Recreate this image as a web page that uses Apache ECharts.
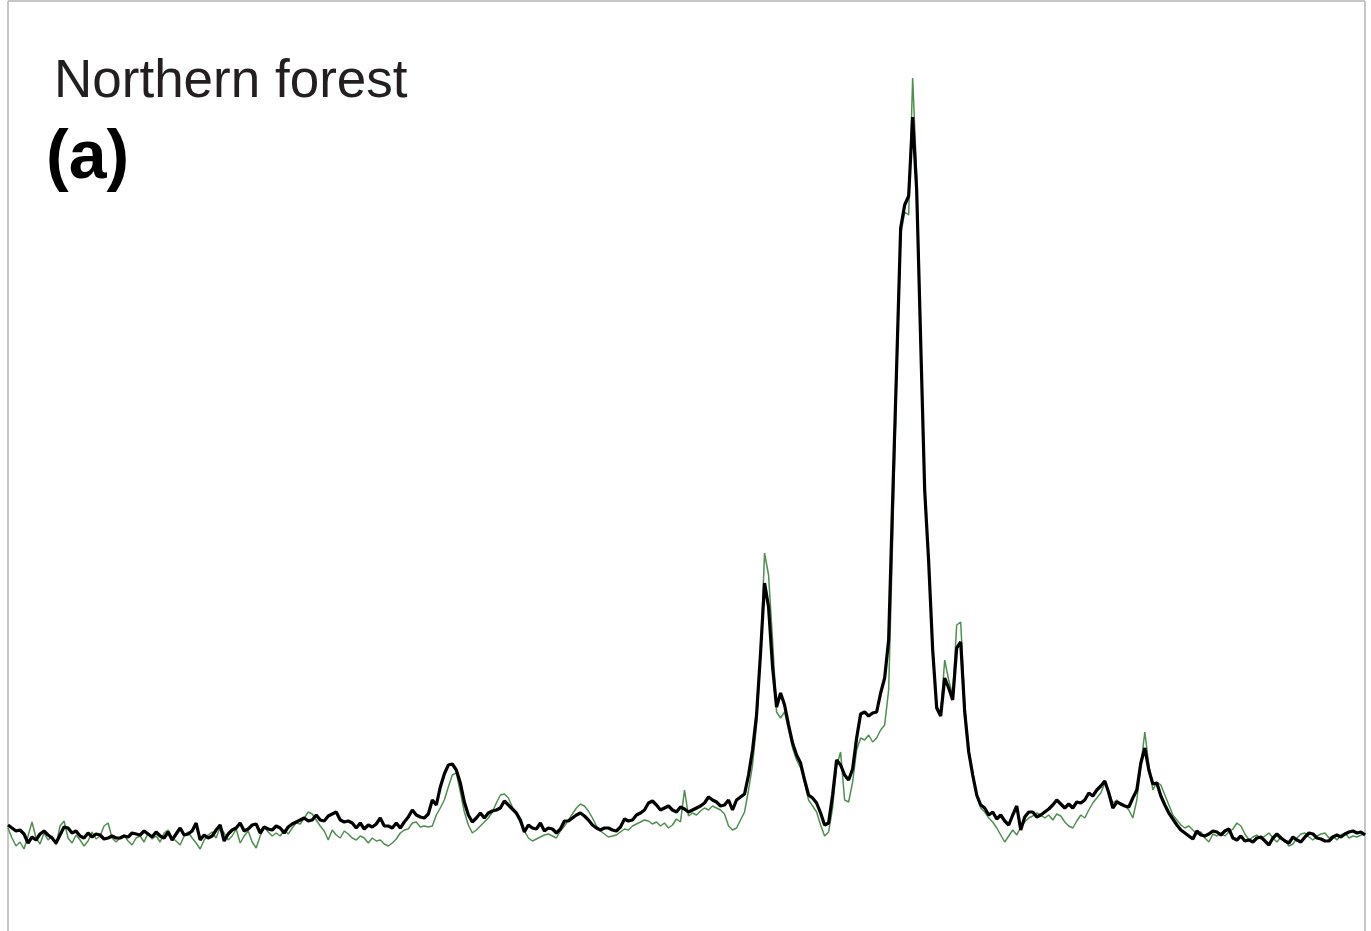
<!DOCTYPE html>
<html>
<head>
<meta charset="utf-8">
<script src="https://cdn.jsdelivr.net/npm/echarts@6/dist/echarts.min.js"></script>
<style>
html,body{margin:0;padding:0;background:#fff;}
#chart{width:1371px;height:931px;}
</style>
</head>
<body>
<div id="chart"></div>
<script>
// Spectrum intensities (arbitrary units) at evenly spaced positions
const blackSeries = [
1.5,1.2,0.9,1.0,0.6,-0.3,0.3,0.0,0.6,0.9,
0.5,0.2,-0.3,0.5,1.3,1.2,0.7,0.9,0.4,0.2,
0.7,0.3,0.6,0.5,0.1,0.2,0.4,0.2,0.2,0.4,
0.3,0.7,0.6,0.5,0.9,0.6,0.3,0.8,0.4,0.2,
0.8,0.0,0.6,1.2,0.5,0.6,0.9,1.7,0.0,0.5,
0.2,0.4,1.0,1.5,-0.1,0.6,1.0,1.2,1.7,0.9,
1.1,1.5,1.6,0.7,1.3,1.1,1.0,1.4,1.2,0.7,
1.3,1.6,1.8,2.0,2.2,1.9,2.0,2.5,2.0,1.9,
2.4,2.6,2.8,2.0,1.8,1.9,1.7,1.2,1.7,1.1,
1.5,1.3,1.6,2.2,1.4,1.4,1.2,1.7,1.2,1.8,
2.3,3.0,2.5,2.3,2.2,2.6,4.0,3.5,5.3,6.6,
7.5,7.6,7.0,5.7,3.8,2.5,1.8,2.2,2.7,2.2,
2.7,2.9,3.0,3.2,3.9,3.5,3.1,2.7,2.0,0.8,
1.5,1.2,1.1,1.7,0.9,1.2,1.1,0.7,1.1,1.9,
1.9,2.2,2.5,2.7,2.4,2.0,1.5,1.2,1.0,1.2,
1.2,1.0,0.9,1.3,2.1,1.9,2.0,2.5,2.7,3.0,
3.7,3.9,3.5,3.0,3.2,3.4,3.0,2.8,3.3,3.1,
2.8,3.0,3.2,3.4,3.7,4.3,4.0,3.8,3.4,3.5,
4.0,3.0,4.0,4.3,4.6,6.5,9.0,12.5,18.7,25.7,
23.3,17.3,13.3,14.7,13.5,11.5,9.7,8.5,7.7,6.0,
4.5,4.2,3.7,2.7,1.5,1.7,4.5,8.0,7.5,6.5,
6.0,7.1,10.2,12.6,12.8,12.4,12.7,12.8,14.7,16.2,
20.0,34.0,47.4,61.2,63.5,64.4,72.3,65.0,49.9,35.0,
27.8,19.0,13.2,12.4,16.2,15.2,14.0,19.2,19.8,12.8,
8.8,6.5,4.5,3.5,3.2,2.5,2.8,2.1,2.5,1.9,
1.5,2.5,3.4,1.0,2.3,2.8,2.8,2.3,2.5,2.8,
3.1,3.5,4.0,3.6,3.2,3.6,3.2,3.8,3.7,4.0,
4.7,4.4,5.0,5.4,5.9,4.7,3.2,3.8,3.6,3.4,
3.3,4.2,5.0,7.7,9.2,7.0,5.6,5.7,4.4,3.5,
2.7,2.1,1.5,1.0,0.7,0.4,0.1,0.9,0.5,0.4,
0.6,0.9,0.8,0.5,0.9,1.1,0.2,0.0,0.4,-0.1,
0.0,-0.2,0.2,0.3,-0.1,-0.5,0.2,0.6,0.2,-0.1,
-0.3,0.3,0.0,-0.2,0.3,0.7,0.6,0.2,0.1,-0.1,
-0.1,0.3,0.5,0.3,0.6,0.8,0.9,0.7,0.8,0.5
];
const greenSeries = [
1.2,0.2,-0.6,-0.2,-0.9,0.4,1.8,0.2,-0.4,0.7,
0.0,0.4,-0.5,1.4,1.9,0.2,-0.3,0.5,0.0,-0.6,
-0.1,0.8,0.1,0.4,1.4,1.7,0.2,-0.2,0.2,0.5,
-0.1,-0.5,0.2,0.4,-0.2,0.7,0.1,0.4,-0.2,0.7,
1.0,0.2,-0.1,-0.5,0.4,0.8,0.2,-0.3,-0.9,0.0,
0.5,0.8,0.2,1.3,0.7,0.0,0.4,1.1,-0.3,0.4,
0.9,-0.2,-0.8,0.4,1.3,0.8,0.4,0.7,0.4,1.0,
0.6,1.2,1.7,1.6,2.2,2.8,2.6,2.0,1.4,0.9,
0.0,1.0,0.5,0.2,0.9,0.6,0.2,0.0,0.4,0.2,
-0.3,0.2,-0.1,0.0,-0.4,-0.6,-0.3,0.1,0.7,1.0,
1.1,1.7,1.8,1.3,1.4,1.3,1.4,2.5,3.2,4.0,
5.3,6.5,6.7,4.8,2.8,1.5,0.7,1.0,1.4,1.8,
2.2,2.8,3.7,4.5,4.6,4.2,3.3,2.5,1.7,0.9,
0.2,-0.1,0.1,0.3,0.5,0.6,0.4,0.2,0.9,1.4,
2.0,2.6,3.2,3.6,3.4,2.9,2.2,1.4,0.9,0.6,
0.3,0.4,0.5,0.8,1.1,1.0,1.4,1.6,1.8,2.0,
1.9,1.6,1.8,1.4,1.7,1.2,1.5,2.1,1.8,5.0,
2.4,2.7,2.5,2.9,3.2,3.0,3.4,3.2,3.0,2.6,
1.4,1.0,1.2,2.0,2.8,5.0,7.5,11.5,18.5,28.7,
26.5,20.0,12.8,12.2,12.8,11.0,9.2,8.0,7.2,5.7,
4.0,3.4,2.8,1.5,0.4,0.8,3.2,7.4,8.8,4.0,
3.8,5.8,9.0,10.2,10.0,10.5,9.8,10.2,11.0,11.5,
15.0,30.0,46.0,60.5,62.8,62.5,76.2,66.5,50.0,35.2,
28.0,19.5,13.5,12.6,18.0,16.0,14.5,21.5,21.8,13.5,
9.0,6.8,4.3,3.2,2.8,2.2,1.8,1.2,0.5,-0.2,
0.4,1.0,0.5,1.3,1.8,2.2,2.4,2.7,2.5,2.2,
2.5,2.0,2.6,2.4,1.8,1.4,1.2,1.9,2.5,2.2,
3.0,3.7,4.2,4.7,5.7,4.8,3.7,4.0,3.5,3.4,
3.0,2.2,4.0,7.5,10.8,7.5,5.0,5.8,5.5,4.5,
3.5,2.5,2.0,1.5,1.2,1.4,1.0,0.6,0.8,0.2,
-0.2,0.6,0.4,0.7,0.4,0.8,1.1,1.7,1.4,0.6,
0.0,0.3,0.5,0.1,0.4,0.7,0.2,-0.2,0.3,0.0,
-0.6,-0.4,0.2,0.6,0.7,0.3,0.0,0.4,0.6,0.7,
0.2,0.4,0.0,0.5,0.7,0.2,0.4,0.3,0.5,0.6
];
const titleText = 'Northern forest';
const panelLabel = '(a)';

const positions = blackSeries.map((_, i) => String(i));

const chart = echarts.init(document.getElementById('chart'), null, {renderer: 'canvas'});
const frameStyle = {stroke: '#b4b4b4', lineWidth: 1.5};
chart.setOption({
  animation: false,
  backgroundColor: '#ffffff',
  grid: {left: 8, right: 6, top: 1, bottom: 0, show: false},
  xAxis: {type: 'category', data: positions, boundaryGap: false, show: false},
  yAxis: {type: 'value', min: -9.1, max: 83.9, show: false, splitLine: {show: false}},
  graphic: [
    {type: 'line', shape: {x1: 8, y1: 1, x2: 8, y2: 931}, style: frameStyle, silent: true},
    {type: 'line', shape: {x1: 8, y1: 1, x2: 1365, y2: 1}, style: frameStyle, silent: true},
    {type: 'line', shape: {x1: 1365, y1: 1, x2: 1365, y2: 931}, style: frameStyle, silent: true},
    {type: 'text', left: 54, top: 56, style: {text: titleText, font: '53px "Liberation Sans", Arial, sans-serif', fill: '#231f20'}},
    {type: 'text', left: 46, top: 125, style: {text: panelLabel, font: 'bold 68px "Liberation Sans", Arial, sans-serif', fill: '#000000'}}
  ],
  series: [
    {type: 'line', data: greenSeries, symbol: 'none', lineStyle: {color: '#4f8f4f', width: 1.5}, z: 2},
    {type: 'line', data: blackSeries, symbol: 'none', lineStyle: {color: '#000000', width: 3.2}, z: 3}
  ]
});
</script>
</body>
</html>
